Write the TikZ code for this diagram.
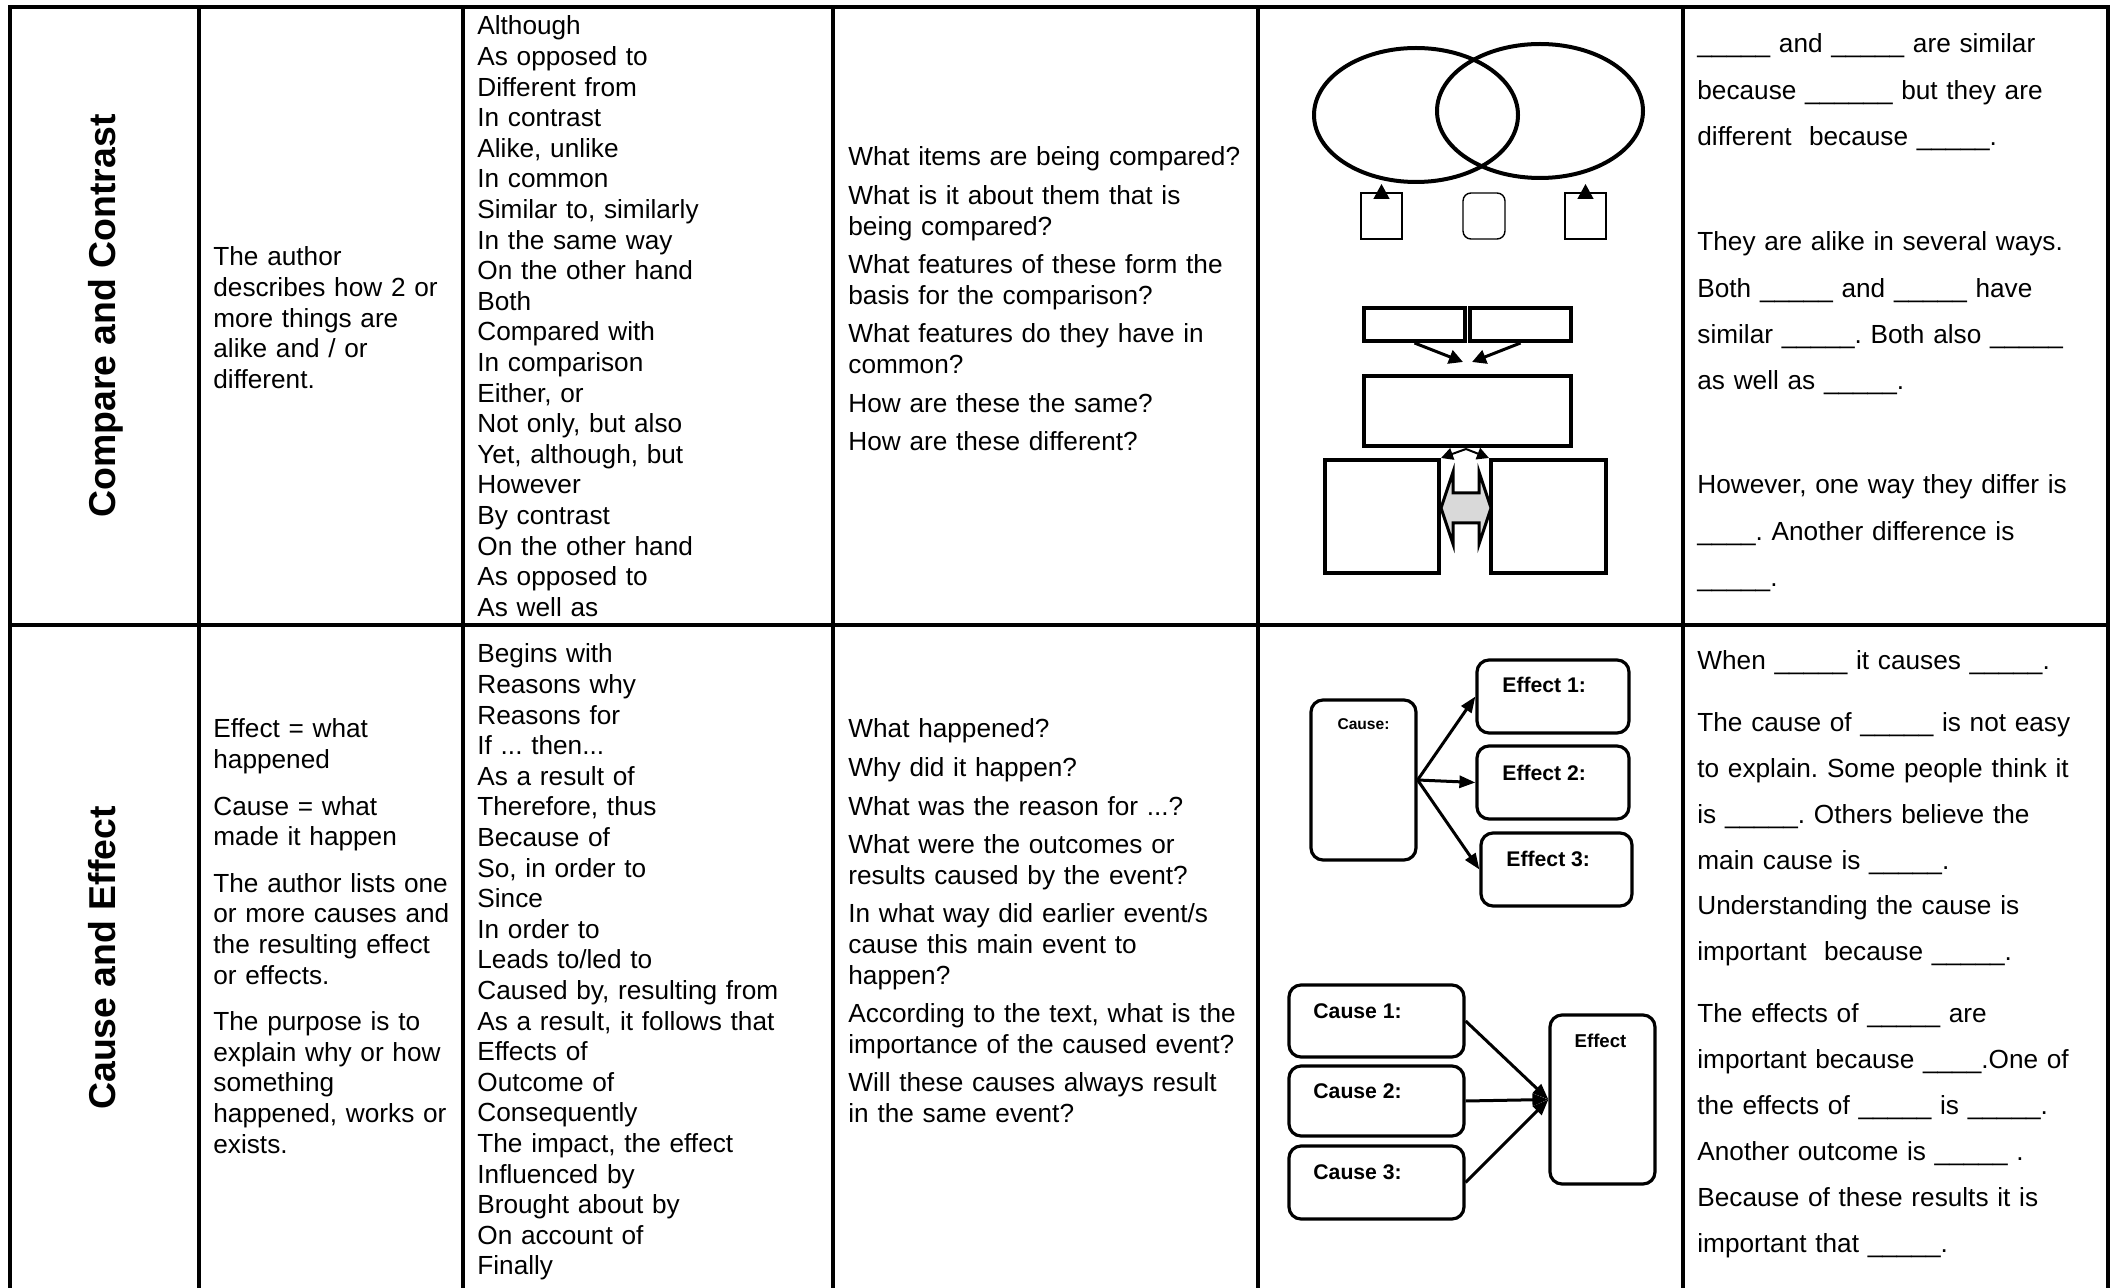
\documentclass[tikz,border=0pt]{standalone}
\usepackage{fontspec}
\setmainfont{Liberation Sans}
\usetikzlibrary{arrows.meta,shapes.geometric}
\newcommand{\uuv}{\_\_\_\_\_}
\newcommand{\uuiv}{\_\_\_\_}
\newcommand{\uuvi}{\_\_\_\_\_\_}
\frenchspacing
\begin{document}
\begin{tikzpicture}[x=0.5pt,y=-0.5pt,
  grid/.style={line width=2pt, line cap=butt, line join=miter},
  txt/.style={inner sep=0pt, anchor=base west, text width=320pt, align=left, font=\fontsize{13.1}{15.3}\selectfont},
  rtxt/.style={inner sep=0pt, anchor=base west, text width=320pt, align=left, font=\fontsize{13.1}{23.1}\selectfont},
  rtxtb/.style={inner sep=0pt, anchor=base west, text width=320pt, align=left, font=\fontsize{13.1}{22.95}\selectfont},
  head/.style={rotate=90, anchor=base, inner sep=0pt, font=\bfseries\fontsize{18.7}{22}\selectfont},
  venn/.style={draw, ellipse, line width=2pt, inner sep=0pt},
  thinbox/.style={draw, line width=0.7pt, inner sep=0pt},
  thickbox/.style={draw, line width=2pt, inner sep=0pt},
  rbox/.style={draw, line width=1.6pt, rounded corners=6pt, inner sep=0pt},
  lbl/.style={inner sep=0pt, anchor=base west, font=\bfseries\fontsize{10.6}{12}\selectfont},
  arr/.style={line width=1.5pt, -{Triangle[width=6pt,length=8pt]}},
  arrtwo/.style={line width=1.5pt, -{Triangle[width=7pt,length=7pt]}},
  arrsmall/.style={line width=1pt, -{Triangle[width=6pt,length=6pt]}},
  arrup/.style={line width=0.7pt, -{Triangle[width=8pt,length=7.5pt]}},
]
\useasboundingbox (0,0) rectangle (2116,1288);
\fill[white] (0,0) rectangle (2116,1288);

% ---------- table grid ----------
\draw[grid] (10,1288) -- (10,7) -- (2108,7) -- (2108,1288);
\draw[grid] (10,625) -- (2108,625);
\foreach \x in {198.5,463,832.5,1258,1683} \draw[grid] (\x,7) -- (\x,1288);

% ---------- column 1 headings ----------
\node[head] (h1) at (115,316) {Compare and Contrast};
\node[head] (h2) at (115,958) {Cause and Effect};

% ---------- column 2 ----------
\node[txt] (d1) at (213,266) {The author\\describes how 2 or\\more things are\\alike and / or\\different.};
\node[txt] (d2) at (213,738) {Effect = what\\happened\\[8pt]Cause = what\\made it happen\\[8pt]The author lists one\\or more causes and\\the resulting effect\\or effects.\\[8pt]The purpose is to\\explain why or how\\something\\happened, works or\\exists.};

% ---------- column 3 ----------
\node[txt] (w1) at (477,35) {Although\\As opposed to\\Different from\\In contrast\\Alike, unlike\\In common\\Similar to, similarly\\In the same way\\On the other hand\\Both\\Compared with\\In comparison\\Either, or\\Not only, but also\\Yet, although, but\\However\\By contrast\\On the other hand\\As opposed to\\As well as};
\node[txt] (w2) at (477,663) {Begins with\\Reasons why\\Reasons for\\If ... then...\\As a result of\\Therefore, thus\\Because of\\So, in order to\\Since\\In order to\\Leads to/led to\\Caused by, resulting from\\As a result, it follows that\\Effects of\\Outcome of\\Consequently\\The impact, the effect\\Influenced by\\Brought about by\\On account of\\Finally};

% ---------- column 4 ----------
\node[txt] (q1) at (848,166) {What items are being compared?\\[4pt]What is it about them that is\\being compared?\\[4pt]What features of these form the\\basis for the comparison?\\[4pt]What features do they have in\\common?\\[4pt]How are these the same?\\[4pt]How are these different?};
\node[txt] (q2) at (848,738) {What happened?\\[4pt]Why did it happen?\\[4pt]What was the reason for ...?\\[4pt]What were the outcomes or\\results caused by the event?\\[4pt]In what way did earlier event/s\\cause this main event to\\happen?\\[4pt]According to the text, what is the\\importance of the caused event?\\[4pt]Will these causes always result\\in the same event?};

% ---------- column 6 ----------
\node[rtxt] (s1) at (1697,53) {\uuv{} and \uuv{} are similar\\because \uuvi{} but they are\\different\ \ because \uuv.};
\node[rtxt] (s2) at (1697,251) {They are alike in several ways.\\Both \uuv{} and \uuv{} have\\similar \uuv. Both also \uuv\\as well as \uuv.};
\node[rtxt] (s3) at (1697,494) {However, one way they differ is\\\uuiv. Another difference is\\\uuv.};
\node[rtxtb] (s4) at (1697,669.5) {When \uuv{} it causes \uuv.\\[8pt]The cause of \uuv{} is not easy\\to explain. Some people think it\\is \uuv. Others believe the\\main cause is \uuv.\\Understanding the cause is\\important\ \ because \uuv.\\[8pt]The effects of \uuv{} are\\important because \uuiv.One of\\the effects of \uuv{} is \uuv.\\Another outcome is \uuv{} .\\Because of these results it is\\important that \uuv.};

% ---------- compare diagram: Venn ----------
\node[venn, minimum width=102pt, minimum height=67pt] (vl) at (1416,115) {};
\node[venn, minimum width=103pt, minimum height=67pt] (vr) at (1540,111) {};
\node[thinbox, minimum width=20.5pt, minimum height=23pt] (bl) at (1381.5,216) {};
\node[thinbox, rounded corners=4pt, minimum width=21pt, minimum height=23pt] (bm) at (1484,216) {};
\node[thinbox, minimum width=20.5pt, minimum height=23pt] (br) at (1585.5,216) {};
\coordinate (blt) at (1381.5,184);
\coordinate (brt) at (1585.5,184);
\draw[arrup] (bl.north) -- (blt);
\draw[arrup] (br.north) -- (brt);

% ---------- compare diagram: boxes ----------
\node[thickbox, minimum width=50.5pt, minimum height=16.5pt] (tl) at (1414.5,324.5) {};
\node[thickbox, minimum width=50.5pt, minimum height=16.5pt] (tr) at (1520.5,324.5) {};
\node[thickbox, minimum width=103.5pt, minimum height=35pt] (mid) at (1467.5,411.5) {};
\node[thickbox, minimum width=57pt, minimum height=56.75pt] (ll) at (1382,516.75) {};
\node[thickbox, minimum width=57.5pt, minimum height=56.75pt] (lr) at (1548.5,516.75) {};
\coordinate (tip1) at (1463,362);
\coordinate (tip2) at (1472,362);
\draw[arrtwo] (tl.south) -- (tip1);
\draw[arrtwo] (tr.south) -- (tip2);
\coordinate (mb) at (1466,449);
\draw[arrsmall] (mb) -- (ll.north east);
\draw[arrsmall] (mb) -- (lr.north west);
\draw[line width=1.5pt, fill=gray!30, line join=miter]
  (1441,508) -- (1453,472) -- (1453,493) -- (1479,493) -- (1479,472) -- (1491,508)
  -- (1479,544) -- (1479,523) -- (1453,523) -- (1453,544) -- cycle;

% ---------- cause/effect diagram 1 ----------
\node[rbox, minimum width=52.5pt, minimum height=80pt] (cz) at (1363.5,780) {};
\node[inner sep=0pt, anchor=base, font=\bfseries\fontsize{7.8}{9}\selectfont] (czt) at (1363.5,730) {Cause:};
\node[rbox, minimum width=76pt, minimum height=36.5pt] (e1) at (1553,696.5) {};
\node[rbox, minimum width=76pt, minimum height=36.5pt] (e2) at (1553,782.5) {};
\node[rbox, minimum width=75.5pt, minimum height=36.5pt] (e3) at (1556.5,869.5) {};
\node[lbl] (e1t) at (1502,693) {Effect 1:};
\node[lbl] (e2t) at (1502,781) {Effect 2:};
\node[lbl] (e3t) at (1506,866) {Effect 3:};
\draw[arr] (cz.east) -- (e1.west);
\draw[arr] (cz.east) -- (e2.west);
\draw[arr] (cz.east) -- (e3.west);

% ---------- cause/effect diagram 2 ----------
\node[rbox, minimum width=87.5pt, minimum height=36pt] (c1) at (1376.5,1021) {};
\node[rbox, minimum width=87.5pt, minimum height=35pt] (c2) at (1376.5,1101) {};
\node[rbox, minimum width=87.5pt, minimum height=36.5pt] (c3) at (1376.5,1182.5) {};
\node[rbox, minimum width=52.5pt, minimum height=84.5pt] (ef) at (1602.5,1099.5) {};
\node[lbl] (c1t) at (1313,1018) {Cause 1:};
\node[lbl] (c2t) at (1313,1098) {Cause 2:};
\node[lbl] (c3t) at (1313,1179) {Cause 3:};
\node[inner sep=0pt, anchor=base, font=\bfseries\fontsize{9.3}{11}\selectfont] (eft) at (1600.5,1047) {Effect};
\draw[arr] (c1.east) -- (ef.west);
\draw[arr] (c2.east) -- (ef.west);
\draw[arr] (c3.east) -- (ef.west);
\end{tikzpicture}
\end{document}
